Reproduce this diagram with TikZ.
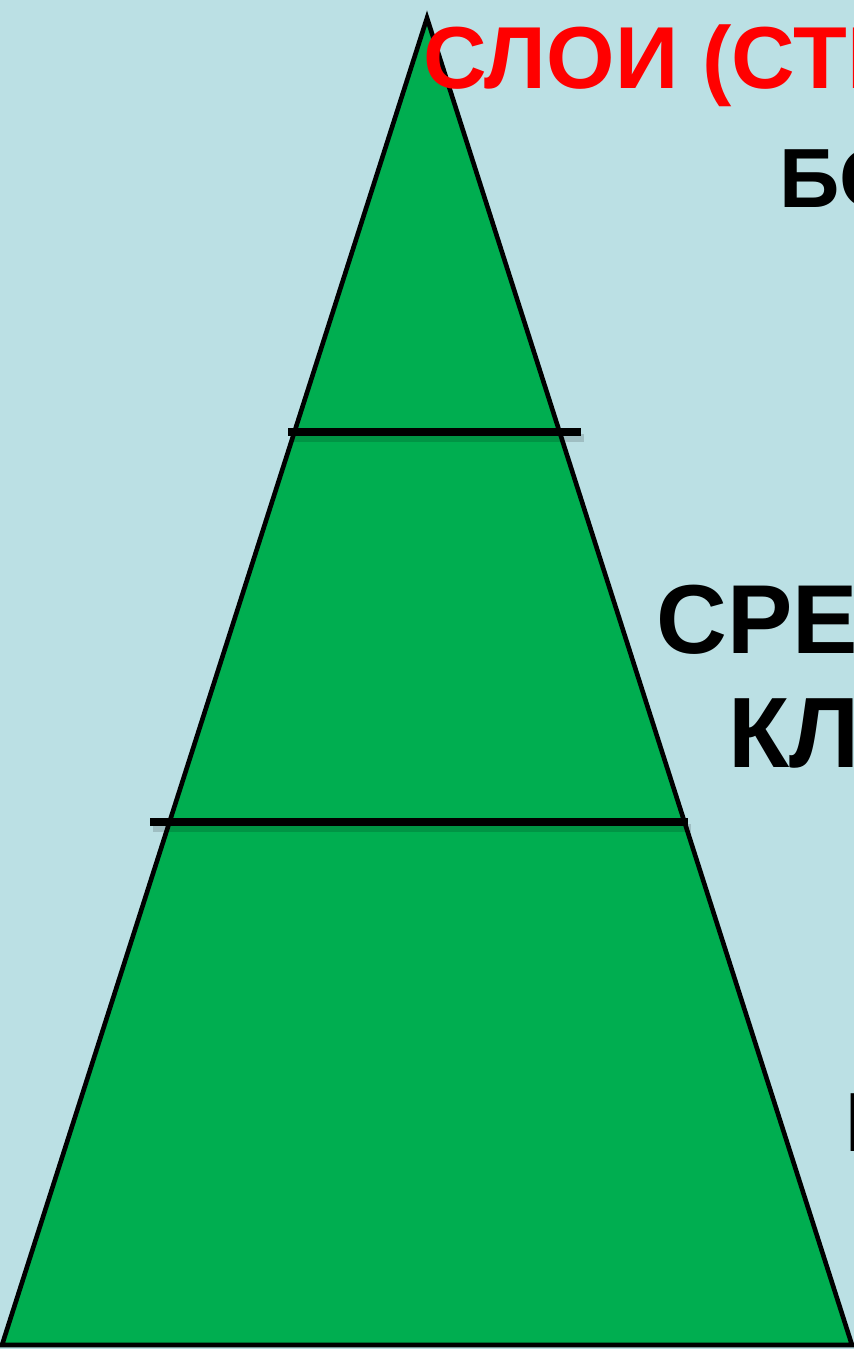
\documentclass[tikz,border=0pt]{standalone}
\usepackage{fontspec}
\setmainfont{Liberation Sans}
\definecolor{bgblue}{HTML}{BBE0E4}
\definecolor{pyrgreen}{HTML}{00AE50}
\definecolor{titlered}{HTML}{FF0000}
\begin{document}
\begin{tikzpicture}[x=0.5pt,y=-0.5pt,
  layerline/.style={black,line width=3.6pt},
  lineshadow/.style={black,opacity=0.15,line width=4pt},
  lbl/.style={anchor=base west,inner sep=0pt,font=\bfseries},
  ]
\useasboundingbox (0,0) rectangle (854,1349);
\clip (0,0) rectangle (854,1349);
\fill[bgblue] (0,0) rectangle (854,1349);
% pyramid
\coordinate (apex) at (427,18);
\coordinate (bl) at (2,1345);
\coordinate (br) at (852,1345);
\fill[pyrgreen] (apex) -- (br) -- (bl) -- cycle;
% layer lines with soft shadow
\coordinate (l1a) at (288,432);
\coordinate (l1b) at (581,432);
\coordinate (l2a) at (150,822);
\coordinate (l2b) at (688,822);
\draw[lineshadow] ([shift={(3,6)}]l1a) -- ([shift={(3,6)}]l1b);
\draw[lineshadow] ([shift={(3,6)}]l2a) -- ([shift={(3,6)}]l2b);
\draw[black,line width=2.3pt,line join=miter] (apex) -- (br) -- (bl) -- cycle;
\draw[layerline] (l1a) -- (l1b);
\draw[layerline] (l2a) -- (l2b);
% texts
\node[lbl,text=titlered,font=\fontsize{44}{50}\selectfont\bfseries] (title) at (423,88) {СЛОИ (СТРАТЫ)};
\node[lbl,font=\fontsize{42}{50}\selectfont\bfseries] (top) at (779,207) {БОГАТЫЕ};
\node[lbl,font=\fontsize{49}{58}\selectfont\bfseries] (mid1) at (656,653) {СРЕДНИЙ};
\node[lbl,font=\fontsize{50}{58}\selectfont\bfseries] (mid2) at (728,767) {КЛАСС};
\node[lbl,font=\fontsize{42}{50}\selectfont\bfseries] (bot) at (845,1151) {БЕДНЫЕ};
\end{tikzpicture}
\end{document}
